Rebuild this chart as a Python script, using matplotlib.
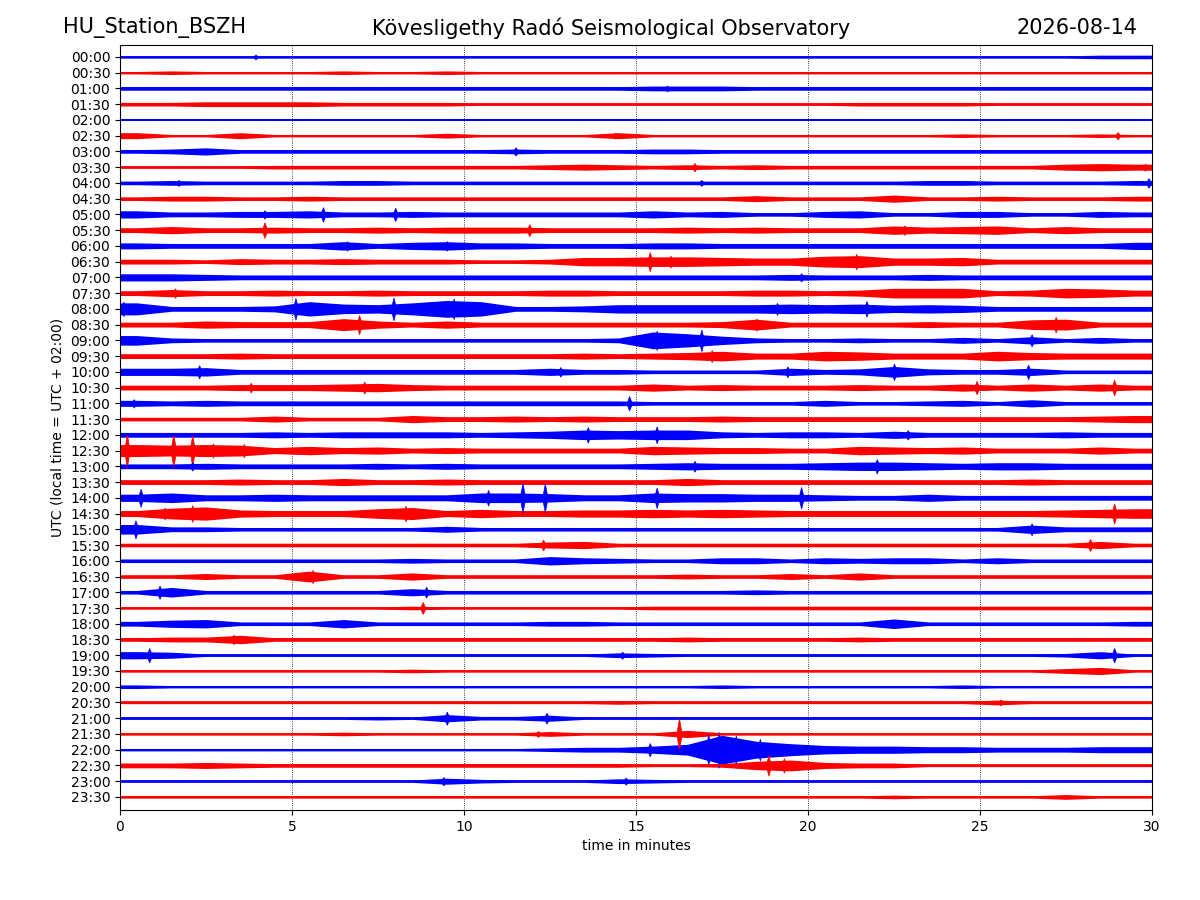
import matplotlib
matplotlib.use("Agg")
import matplotlib.pyplot as plt
import numpy as np

station = "HU_Station_BSZH"
observatory = "Kövesligethy Radó Seismological Observatory"
day = "2026-08-14"

row_labels = ["00:00", "00:30", "01:00", "01:30", "02:00", "02:30", "03:00", "03:30",
              "04:00", "04:30", "05:00", "05:30", "06:00", "06:30", "07:00", "07:30",
              "08:00", "08:30", "09:00", "09:30", "10:00", "10:30", "11:00", "11:30",
              "12:00", "12:30", "13:00", "13:30", "14:00", "14:30", "15:00", "15:30",
              "16:00", "16:30", "17:00", "17:30", "18:00", "18:30", "19:00", "19:30",
              "20:00", "20:30", "21:00", "21:30", "22:00", "22:30", "23:00", "23:30"]

# envelope of each 30 min trace, one char per minute (base 36, half-pixel units)
envelopes = [
    "22222 22222 22222 22222 22222 22233",
    "23222 23223 22222 22222 22222 22222",
    "33333 33333 33333 44433 33333 33333",
    "33444 43333 22222 22222 23333 22222",
    "22222 22222 22222 22222 22222 22222",
    "52252 22224 22225 22222 22223 22232",
    "34633 33333 34333 44333 33333 33333",
    "22223 33333 33454 34343 33333 33565",
    "34333 34433 33333 33333 33344 33334",
    "34433 43333 33333 33353 33633 43334",
    "64455 64454 44444 64533 56335 53354",
    "46445 44545 55444 45454 44756 74644",
    "54444 47467 55444 55444 44444 44446",
    "44354 45444 33477 88766 9a667 44444",
    "66544 44444 44444 44445 44454 44444",
    "46445 44544 44554 44455 45888 45875",
    "a4445 c87ae c4457 77778 78676 44444",
    "44655 5a646 44444 44594 44454 48944",
    "84333 33333 33334 eb743 34335 36353",
    "44454 44444 44454 56855 87555 86555",
    "66744 44444 44644 33336 45954 46333",
    "44455 56754 44444 64544 45446 46464",
    "54544 44444 44444 33333 53345 36333",
    "33335 33364 45454 44544 44444 44456",
    "44445 45555 45687 88545 54644 44544",
    "a9a95 75645 44444 76554 47656 44464",
    "44544 44545 44444 56555 67765 66555",
    "44454 46445 44444 46444 44444 45444",
    "68556 55555 88755 87766 54464 44444",
    "59b65 558a5 75566 76765 55555 55678",
    "84433 33335 33333 33333 33333 37444",
    "33333 33333 33563 33333 33333 33363",
    "33333 33343 33754 33553 54553 53333",
    "33533 93363 33333 34335 36333 33333",
    "38333 33363 33333 33343 33333 33333",
    "22222 22232 22222 33333 33333 33333",
    "46733 37333 33443 33333 33833 33334",
    "34473 33333 33333 34333 34333 33333",
    "65222 22222 22224 32222 22222 22362",
    "22222 22232 22222 22222 22222 22462",
    "32222 22222 22222 22322 22223 22222",
    "22222 22222 22223 22222 22222 42222",
    "22222 22326 33522 22222 22222 22222",
    "22222 23222 22422 26222 22222 22222",
    "22222 22222 22344 69oea 76655 44455",
    "44543 33333 33333 22379 54422 22222",
    "22222 22225 32224 32222 22222 22222",
    "22222 22222 22222 22222 22322 22422",
]

# short bursts: (row, minute, half amplitude in half-pixel units)
spikes = [
    (0, 3.94, 4), (2, 15.9, 5), (5, 14.4, 5), (5, 29.0, 6), (6, 11.5, 7),
    (7, 16.7, 7), (7, 29.8, 6), (8, 1.7, 5), (8, 16.9, 5), (8, 29.9, 8),
    (10, 5.9, 12), (10, 8.0, 11), (10, 4.2, 7),
    (11, 4.2, 13), (11, 11.9, 10), (11, 22.8, 8),
    (12, 6.6, 8), (12, 9.5, 8),
    (13, 15.4, 16), (13, 21.4, 13), (13, 16.0, 10),
    (14, 19.8, 7), (15, 1.6, 8),
    (16, 0.1, 12), (16, 5.1, 18), (16, 7.95, 19), (16, 9.7, 17), (16, 19.1, 10), (16, 21.7, 13),
    (17, 6.95, 16), (17, 18.5, 10), (17, 27.2, 13),
    (18, 15.6, 16), (18, 16.9, 18), (18, 26.5, 10),
    (19, 17.2, 10),
    (20, 2.3, 11), (20, 12.8, 8), (20, 19.4, 9), (20, 22.5, 14), (20, 26.4, 12),
    (21, 3.8, 8), (21, 7.1, 10), (21, 24.9, 11), (21, 28.9, 13),
    (22, 0.4, 7), (22, 14.8, 12),
    (24, 13.6, 13), (24, 15.6, 14), (24, 22.9, 8),
    (25, 0.2, 28), (25, 1.55, 28), (25, 2.1, 26), (25, 2.7, 12), (25, 3.6, 11),
    (26, 2.1, 7), (26, 16.7, 9), (26, 22.0, 12),
    (28, 0.6, 15), (28, 10.7, 13), (28, 11.7, 25), (28, 12.35, 24), (28, 15.6, 17), (28, 19.8, 18),
    (29, 1.3, 10), (29, 2.1, 14), (29, 8.3, 13), (29, 28.9, 17),
    (30, 0.45, 15), (30, 26.5, 10),
    (31, 12.3, 9), (31, 28.2, 10),
    (33, 5.6, 11), (34, 1.15, 11), (34, 8.9, 9), (35, 8.8, 10), (37, 3.3, 8),
    (38, 0.85, 12), (38, 14.6, 6), (38, 28.9, 12),
    (41, 25.6, 5), (42, 9.5, 11), (42, 12.4, 9),
    (43, 12.15, 5), (43, 16.25, 26),
    (44, 15.4, 11), (44, 17.1, 26), (44, 17.4, 30), (44, 17.9, 24), (44, 18.6, 18),
    (45, 18.85, 17), (45, 19.3, 12),
    (46, 9.4, 7), (46, 14.7, 6),
]

colors = ["#0000ff", "#ff0000"]
scale = 1.2 / (2 * 15.74)  # half-pixel -> row units
burst_w = 0.08  # half width of a burst in minutes

fig = plt.figure(figsize=(12, 9), dpi=100)
ax = fig.add_axes([0.1, 0.1, 0.86, 0.85])

bin_mid = np.arange(30) + 0.5
xs = np.concatenate([[0.0], bin_mid, [30.0]])
for i, env in enumerate(envelopes):
    vals = [int(c, 36) for c in env.replace(" ", "")]
    h = np.array([vals[0]] + vals + [vals[-1]]) * scale
    col = colors[i % 2]
    ax.fill_between(xs, i - h, i + h, color=col, lw=0)
    ax.plot([0, 30], [i, i], color=col, lw=1.2)

for r, t, a in spikes:
    col = colors[r % 2]
    bx = [t - burst_w, t, t + burst_w]
    bh = np.array([0, a, 0]) * scale
    ax.fill_between(bx, r - bh, r + bh, color=col, lw=0.5)

for x in range(5, 30, 5):
    ax.axvline(x, color="k", ls=":", lw=0.6, zorder=0)

ax.set_xlim(0, 30)
ax.set_ylim(47.83, -0.76)
ax.set_xticks(range(0, 31, 5))
ax.set_yticks(range(len(row_labels)))
ax.set_yticklabels(row_labels)
ax.set_xlabel("time in minutes")
ax.set_ylabel("UTC (local time = UTC + 02:00)")

fig.text(0.0525, 0.969, station, fontsize=15, ha="left", va="center")
fig.text(0.509, 0.969, observatory, fontsize=15, ha="center", va="center")
fig.text(0.9475, 0.969, day, fontsize=15, ha="right", va="center")

fig.savefig("out.png", dpi=100)
